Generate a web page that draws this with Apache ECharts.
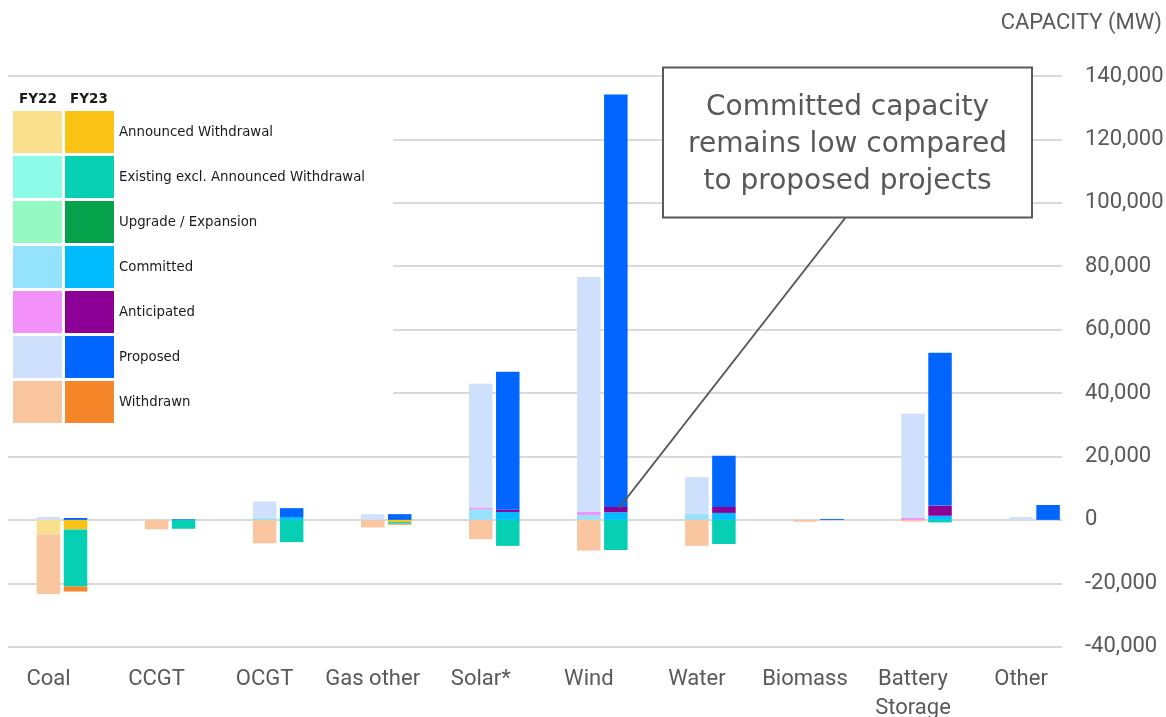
<!DOCTYPE html>
<html>
<head>
<meta charset="utf-8">
<title>Generation capacity by technology, FY22 vs FY23</title>
<script src="https://cdn.jsdelivr.net/npm/echarts@6/dist/echarts.min.js"></script>
<style>
  html, body { margin: 0; padding: 0; background: #ffffff; }
  #chart { width: 1166px; height: 717px; }
</style>
</head>
<body>
<div id="chart"></div>
<script>
// Technologies along the category axis
const categories = ['Coal', 'CCGT', 'OCGT', 'Gas other', 'Solar*', 'Wind', 'Water', 'Biomass', 'Battery\nStorage', 'Other'];

// Capacity status layers (stack order: nearest zero first)
const layerNames = ['Announced Withdrawal', 'Existing excl. Announced Withdrawal', 'Upgrade / Expansion', 'Committed', 'Anticipated', 'Proposed', 'Withdrawn'];
const colorsFY22 = ['#FADF8C', '#8EFBE9', '#95F9C3', '#95E2FC', '#F291FA', '#CFE0FD', '#FAC69F'];
const colorsFY23 = ['#FAC316', '#07CFB3', '#06A24B', '#00BCFF', '#8C0095', '#0066FF', '#F5862A'];

// FY22 capacity (MW)
const announcedFY22   = [-4600,     0,     0,     0,     0,     0,     0,    0,     0,   0];
const existingFY22    = [    0,     0,     0,     0,     0,     0,     0,    0,     0,   0];
const upgradeFY22     = [    0,     0,     0,     0,     0,     0,     0,    0,     0,   0];
const committedFY22   = [    0,     0,   700,     0,  3300,  1500,  1900,    0,     0,   0];
const anticipatedFY22 = [    0,     0,     0,     0,   600,  1000,     0,    0,   600,   0];
const proposedFY22    = [  900,     0,  5100,  1800, 39000, 74100, 11600,    0, 32900, 900];
const withdrawnFY22   = [-18800, -3000, -7400, -2400, -6100, -9700, -8200, -600,  -500,   0];

// FY23 capacity (MW)
const announcedFY23   = [-3000,     0,     0,  -700,     0,     0,     0,    0,     0,    0];
const existingFY23    = [-18000, -2800, -7000,  -500, -8200, -9500, -7600,    0,  -800,    0];
const upgradeFY23     = [    0,     0,     0,     0,     0,     0,     0,    0,     0,    0];
const committedFY23   = [    0,     0,   900,     0,  2500,  2400,  2200,    0,  1300,    0];
const anticipatedFY23 = [    0,     0,     0,     0,   700,  1700,  1900,    0,  3200,    0];
const proposedFY23    = [  600,   200,  2800,  1800, 43500, 130100, 16100,  300, 48200, 4700];
const withdrawnFY23   = [-1600,     0,     0,  -300,     0,     0,     0,    0,     0,    0];

// Value axis range
const yMin = -40000, yMax = 140000, yStep = 20000;

const layersFY22 = [announcedFY22, existingFY22, upgradeFY22, committedFY22, anticipatedFY22, proposedFY22, withdrawnFY22];
const layersFY23 = [announcedFY23, existingFY23, upgradeFY23, committedFY23, anticipatedFY23, proposedFY23, withdrawnFY23];

const textGrey = '#595959';
const axisFont = 'Roboto, "Liberation Sans", sans-serif';
const legendFont = '"DejaVu Sans", Verdana, sans-serif';

function barSeries(year, layers, colors) {
  return layers.map((values, k) => ({
    type: 'bar',
    name: layerNames[k] + ' ' + year,
    xAxisIndex: 1,
    yAxisIndex: 1,
    stack: year,
    data: values,
    barWidth: 23.5,
    barGap: '15%',
    itemStyle: { color: colors[k] },
    emphasis: { disabled: true }
  }));
}

// Two-column swatch legend (FY22 / FY23) on a white panel at the top left
const legendGraphics = [
  {
    type: 'rect', z: 10,
    shape: { x: 8, y: 82, width: 385, height: 348 },
    style: { fill: '#ffffff' }
  },
  {
    type: 'text', z: 11, left: 19, top: 92,
    style: { text: 'FY22', font: 'bold 13.5px ' + legendFont, fill: '#1a1a1a' }
  },
  {
    type: 'text', z: 11, left: 70, top: 92,
    style: { text: 'FY23', font: 'bold 13.5px ' + legendFont, fill: '#1a1a1a' }
  }
];
const swatchX = [13, 65], swatchW = 49, swatchH = 42, rowTop = 111, rowPitch = 45;
layerNames.forEach((name, k) => {
  const y = rowTop + k * rowPitch;
  legendGraphics.push({
    type: 'rect', z: 11, shape: { x: swatchX[0], y: y, width: swatchW, height: swatchH },
    style: { fill: colorsFY22[k] }
  });
  legendGraphics.push({
    type: 'rect', z: 11, shape: { x: swatchX[1], y: y, width: swatchW, height: swatchH },
    style: { fill: colorsFY23[k] }
  });
  legendGraphics.push({
    type: 'text', z: 11, x: 119, y: y + swatchH / 2 + 0.5,
    style: { text: name, font: '13.3px ' + legendFont, fill: '#1a1a1a', textVerticalAlign: 'middle' }
  });
});

// Callout box with leader line, plus the value-axis title
const calloutGraphics = [
  {
    type: 'line', z: 50,
    shape: { x1: 846, y1: 217, x2: 619, y2: 508 },
    style: { stroke: textGrey, lineWidth: 2 }
  },
  {
    type: 'rect', z: 51,
    shape: { x: 663, y: 67.5, width: 369, height: 150 },
    style: { fill: '#ffffff', stroke: textGrey, lineWidth: 2 }
  },
  {
    type: 'text', z: 52, x: 847.5, y: 145,
    style: {
      text: 'Committed capacity\nremains low compared\nto proposed projects',
      font: '28px ' + legendFont,
      lineHeight: 37,
      fill: textGrey,
      textAlign: 'center',
      textVerticalAlign: 'middle'
    }
  },
  {
    type: 'text', right: 4, top: 12,
    style: { text: 'CAPACITY (MW)', font: '22px ' + axisFont, fill: textGrey }
  }
];

const chart = echarts.init(document.getElementById('chart'), null, { renderer: 'canvas' });
chart.setOption({
  animation: false,
  backgroundColor: '#ffffff',
  grid: [
    // gridlines and value labels
    { left: 8, right: 104, top: 76, bottom: 70.3, outerBoundsMode: 'none', containLabel: false },
    // bars and category labels
    { left: 8, right: 77.4, top: 76, bottom: 70.3, outerBoundsMode: 'none', containLabel: false }
  ],
  xAxis: [
    { gridIndex: 0, type: 'value', show: false, min: 0, max: 1 },
    {
      gridIndex: 1,
      type: 'category',
      data: categories,
      axisLine: { show: false },
      axisTick: { show: false },
      axisLabel: {
        color: textGrey,
        fontFamily: axisFont,
        fontSize: 22,
        lineHeight: 29,
        margin: 18,
        interval: 0,
        padding: [0, 27, 0, 0]
      }
    }
  ],
  yAxis: [
    {
      gridIndex: 0,
      type: 'value',
      position: 'right',
      min: yMin, max: yMax, interval: yStep,
      axisLine: { show: false },
      axisTick: { show: false },
      splitLine: { show: true, lineStyle: { color: '#D9D9D9', width: 2 } },
      axisLabel: {
        color: textGrey,
        fontFamily: axisFont,
        fontSize: 22,
        margin: 23,
        formatter: v => v.toLocaleString('en-US')
      }
    },
    {
      gridIndex: 1,
      type: 'value',
      min: yMin, max: yMax, interval: yStep,
      show: false,
      splitLine: { show: false }
    }
  ],
  series: [].concat(
    barSeries('FY22', layersFY22, colorsFY22),
    barSeries('FY23', layersFY23, colorsFY23)
  ),
  graphic: legendGraphics.concat(calloutGraphics)
});
</script>
</body>
</html>
